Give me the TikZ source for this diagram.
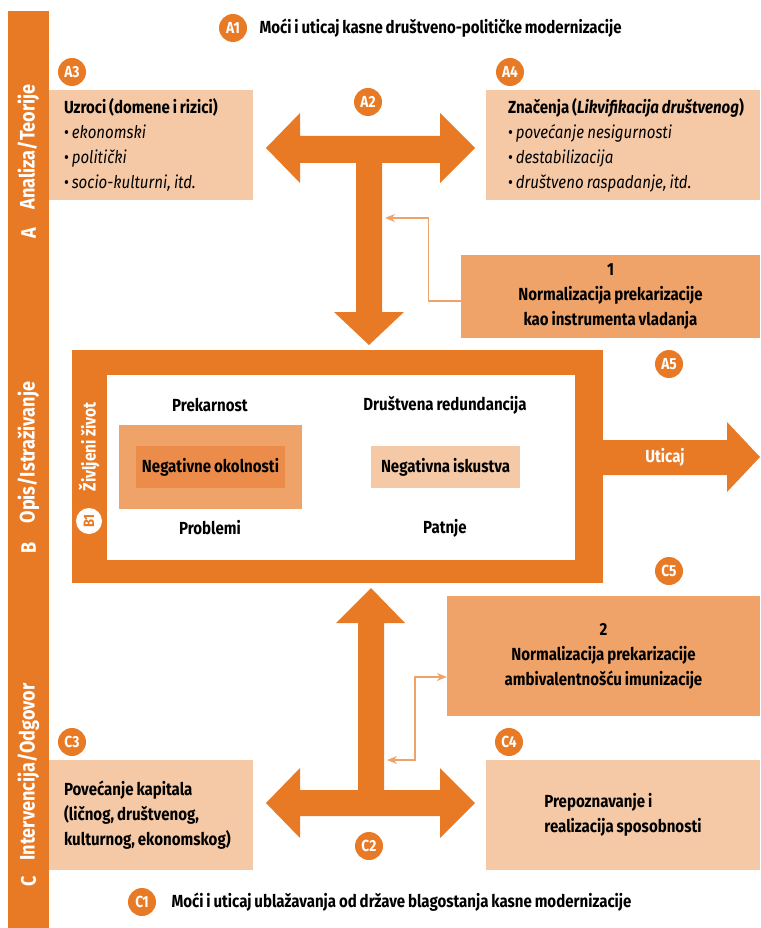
\documentclass[tikz,border=0pt]{standalone}
\usepackage{fontspec}
\setmainfont{Fira Sans}[FakeStretch=0.86, WordSpace=0.8]
\usetikzlibrary{arrows.meta,positioning}

\definecolor{mainorange}{RGB}{232,122,38}
\definecolor{midorange}{RGB}{240,163,104}
\definecolor{deeporange}{RGB}{236,140,74}
\definecolor{peach}{RGB}{245,201,166}

\tikzset{
    badge/.style={circle, fill=mainorange, text=white, inner sep=0pt, minimum size=28pt,
        font=\bfseries\fontsize{16}{16}\selectfont},
    txt/.style={font=\bfseries\fontsize{17.5}{25}\selectfont},
    sidetxt/.style={text=white, rotate=90, font=\bfseries\fontsize{21}{21}\selectfont},
    peachbox/.style={fill=peach, inner sep=0pt, minimum height=110pt},
    normbox/.style={fill=midorange, inner sep=0pt, align=center, txt},
    link/.style={draw=midorange, line width=1.2pt, -{Stealth[length=10pt,width=8pt]}},
}

\begin{document}
\begin{tikzpicture}[x=1pt, y=-1pt]
    \useasboundingbox (0,0) rectangle (760,928);

    % side bar
    \fill[mainorange] (8,11) rectangle (49,928);
    \node[sidetxt, anchor=west] (secA) at (28.5,213) {Analiza/Teorije};
    \node[sidetxt] (letA) at (28.5,233) {A};
    \node[sidetxt, anchor=west] (secB) at (28.5,527) {Opis/Istraživanje};
    \node[sidetxt] (letB) at (28.5,548) {B};
    \node[sidetxt, anchor=west] (secC) at (28.5,864) {Intervencija/Odgovor};
    \node[sidetxt] (letC) at (28.5,881) {C};

    % A: theory
    \node[badge] (a1) at (233,28) {A1};
    \node[txt, anchor=west] (a1t) at (256,28) {Moći i uticaj kasne društveno-političke modernizacije};

    \node[badge] (a3) at (72,72) {A3};
    \node[peachbox, minimum width=204pt] (uzroci) at (151,145) {};
    \node[txt, align=left, anchor=west, inner sep=0pt] (uzrocit) at ([xshift=15pt]uzroci.west)
        {Uzroci (domene i rizici)\\
         \mdseries\textbullet\,\textit{ekonomski}\\
         \mdseries\textbullet\,\textit{politički}\\
         \mdseries\textbullet\,\textit{socio-kulturni, itd.}};

    \node[badge] (a4) at (510,72) {A4};
    \node[peachbox, minimum width=274pt] (znacenja) at (623,145) {};
    \node[txt, align=left, anchor=west, inner sep=0pt] (znacenjat) at ([xshift=22pt]znacenja.west)
        {Značenja (\textit{Likvifikacija društvenog})\\
         \mdseries\textbullet\,\textit{povećanje nesigurnosti}\\
         \mdseries\textbullet\,\textit{destabilizacija}\\
         \mdseries\textbullet\,\textit{društveno raspadanje, itd.}};

    \node[badge] (a2) at (368,102) {A2};
    \fill[mainorange]
        (266,148) -- (300,113) -- (300,136) -- (440,136) -- (440,113) -- (475,148)
        -- (440,183) -- (440,163) -- (382,163) -- (382,312) -- (404,312) -- (369,345)
        -- (334,312) -- (356,312) -- (356,163) -- (300,163) -- (300,183) -- cycle;
    \coordinate (stemA) at (385,218);

    \node[normbox, minimum width=299pt, minimum height=83pt] (norm1) at (610.5,296.5)
        {1\\Normalizacija prekarizacije\\kao instrumenta vladanja};
    \draw[link] ([yshift=-4.5pt]norm1.west) -- ++(-32,0) |- (stemA);

    \node[badge] (a5) at (669,364) {A5};

    % B: lived life
    \fill[mainorange] (72,350) rectangle (603,583);
    \fill[white] (107,375) rectangle (575,560);
    \node[text=white, rotate=90, font=\bfseries\fontsize{18}{18}\selectfont] (zivot) at (89,447) {Življeni život};
    \node[circle, fill=white, inner sep=0pt, minimum size=26pt] (b1) at (89,521) {};
    \node[rotate=90, text=mainorange, font=\bfseries\fontsize{15}{15}\selectfont] at (b1) {B1};

    \node[txt] (prek) at (210,405) {Prekarnost};
    \node[txt] (redun) at (445,405) {Društvena redundancija};
    \node[fill=midorange, minimum width=183pt, minimum height=84pt] (okolout) at (210.5,467) {};
    \node[txt, fill=deeporange, inner sep=0pt, minimum width=149pt, minimum height=42pt] (okol) at (210.5,467) {Negativne okolnosti};
    \node[txt, fill=peach, inner sep=0pt, minimum width=149pt, minimum height=42pt] (isk) at (445.5,467) {Negativna iskustva};
    \node[txt] (probl) at (210,528) {Problemi};
    \node[txt] (patnje) at (445,528) {Patnje};

    \fill[mainorange] (603,440) -- (727,440) -- (727,422) -- (760,457) -- (727,492) -- (727,475) -- (603,475) -- cycle;
    \node[txt, text=white] (uticaj) at (665,457) {Uticaj};

    \node[badge] (c5) at (669,571) {C5};

    % C: intervention
    \fill[mainorange]
        (371,588) -- (405,623) -- (384,623) -- (384,790) -- (440,790) -- (440,768) -- (475,803)
        -- (440,838) -- (440,816) -- (300,816) -- (300,838) -- (266,803) -- (300,768)
        -- (300,790) -- (358,790) -- (358,623) -- (336,623) -- cycle;
    \coordinate (stemC) at (387,760);

    \node[normbox, minimum width=313pt, minimum height=120pt] (norm2) at (603.5,656)
        {2\\Normalizacija prekarizacije\\ambivalentnošću imunizacije};
    \draw[link, {Stealth[length=10pt,width=8pt]}-{Stealth[length=10pt,width=8pt]}] (stemC) -- ++(28,0) |- ([yshift=-21pt]norm2.west);

    \node[badge] (c3) at (72,742) {C3};
    \node[peachbox, minimum width=204pt] (kapital) at (151,815) {};
    \node[txt, align=left, anchor=west, inner sep=0pt] (kapitalt) at ([xshift=15pt]kapital.west)
        {Povećanje kapitala\\(ličnog, društvenog,\\kulturnog, ekonomskog)};

    \node[badge] (c4) at (509,742) {C4};
    \node[peachbox, minimum width=274pt] (sposob) at (623,815) {};
    \node[txt, align=left] (sposobt) at (sposob) {Prepoznavanje i\\realizacija sposobnosti};

    \node[badge] (c2) at (369,846) {C2};

    \node[badge] (c1) at (142,902) {C1};
    \node[txt, anchor=west] (c1t) at (168,902) {Moći i uticaj ublažavanja od države blagostanja kasne modernizacije};
\end{tikzpicture}
\end{document}
